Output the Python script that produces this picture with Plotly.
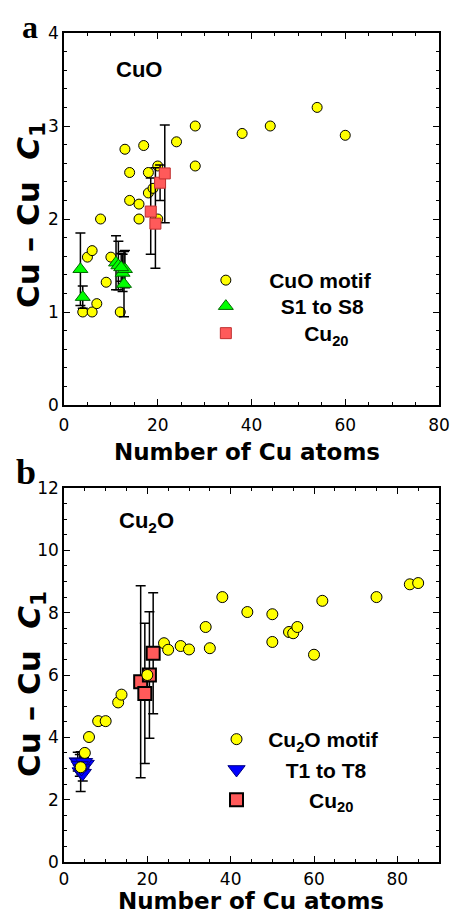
import plotly.graph_objects as go

# ---------------- data: panel a (CuO) ----------------
cuo_motif_n = [4, 6, 7, 5, 6, 7.8, 9, 10, 12, 13, 14, 14, 16, 16, 17, 18, 18, 19, 20, 20, 24, 28, 28, 38, 44, 54, 60]
cuo_motif_c1 = [1.0, 1.0, 1.09, 1.59, 1.66, 2.0, 1.32, 1.59, 1.0, 2.75, 2.5, 2.2, 2.16, 2.0, 2.79, 2.5, 2.28, 2.33, 2.57, 2.0, 2.83, 3.0, 2.57, 2.92, 3.0, 3.2, 2.9]

s_n = [3.5, 4.0, 11.1, 11.6, 12.5, 13.0, 12.8, 12.2]
s_c1 = [1.46, 1.16, 1.53, 1.50, 1.42, 1.46, 1.30, 1.48]
s_err = [0.39, 0.12, 0.29, 0.26, 0.20, 0.20, 0.35, 0.15]

cu20a_n = [18.5, 19.5, 20.5, 21.5]
cu20a_c1 = [2.08, 1.95, 2.39, 2.49]
cu20a_plus = [0.36, 0.60, 0.19, 0.52]
cu20a_minus = [0.46, 0.48, 0.19, 0.53]

# ---------------- data: panel b (Cu2O) ----------------
cu2o_motif_n = [4, 5, 6, 8.2, 10, 13, 13.8, 20, 24, 25, 28, 30, 34, 35, 38, 44, 50, 50, 54, 55, 56, 60, 62, 75, 83, 85]
cu2o_motif_c1 = [3.04, 3.5, 4.01, 4.52, 4.52, 5.12, 5.37, 6.0, 7.02, 6.81, 6.93, 6.82, 7.54, 6.86, 8.5, 8.02, 7.95, 7.06, 7.38, 7.34, 7.54, 6.65, 8.38, 8.5, 8.91, 8.95]

t_n = [3.3, 3.6, 4.0, 4.5, 5.2, 4.8, 3.8, 4.2]
t_c1 = [3.22, 3.2, 2.9, 2.85, 3.14, 3.2, 3.1, 3.0]
t_err = [0.30, 0.0, 0.64, 0.25, 0.0, 0.15, 0.35, 0.20]

cu20b_n = [18.4, 19.4, 20.5, 21.4]
cu20b_c1 = [5.78, 5.41, 6.0, 6.7]
cu20b_err = [3.08, 2.25, 2.03, 1.94]

xticks_a = [0, 20, 40, 60, 80]
yticks_a = [0, 1, 2, 3, 4]
xticks_b = [0, 20, 40, 60, 80]
yticks_b = [0, 2, 4, 6, 8, 10, 12]

# ---------------- layout geometry ----------------
# the page body has an 8px default margin, so the figure is shrunk by that amount
OFF = 8
W, H = 462 - OFF, 913 - OFF
ML, MR, MT, MB = 64 - OFF, 12, 33 - OFF, 51
PW, PH = W - ML - MR, H - MT - MB


def pxx(x):
    """page pixel x -> paper fraction"""
    return (x - OFF - ML) / PW


def pxy(y):
    """page pixel y -> paper fraction"""
    return (H - MB - (y - OFF)) / PH


TICKFONT = dict(family="DejaVu Sans", size=17, color="black")
LEGFONT = dict(family="Liberation Sans", size=21, color="black", weight="bold")
NB = "\u00a0"

fig = go.Figure()

# panel a
fig.add_trace(go.Scatter(
    x=cuo_motif_n, y=cuo_motif_c1, mode="markers", name=NB * 4 + "CuO motif",
    marker=dict(symbol="circle", size=10, color="#FFFF00", line=dict(color="black", width=1)),
    xaxis="x", yaxis="y", legend="legend"))
fig.add_trace(go.Scatter(
    x=s_n, y=s_c1, mode="markers", name=NB * 6 + "S1 to S8",
    marker=dict(symbol="triangle-up", size=13, color="#00FF00", line=dict(color="#006600", width=1)),
    error_y=dict(type="data", array=s_err, color="black", thickness=1.5, width=5),
    xaxis="x", yaxis="y", legend="legend3"))
fig.add_trace(go.Scatter(
    x=cu20a_n, y=cu20a_c1, mode="markers", name=NB * 10 + "Cu<sub>20</sub>",
    marker=dict(symbol="square", size=11, color="#FF5A5A", line=dict(color="#C03030", width=1)),
    error_y=dict(type="data", symmetric=False, array=cu20a_plus, arrayminus=cu20a_minus,
                 color="black", thickness=1.5, width=5),
    xaxis="x", yaxis="y", legend="legend4"))

# panel b (draw order: triangles, squares, circles)
fig.add_trace(go.Scatter(
    x=t_n, y=t_c1, mode="markers", name=NB * 5 + "T1 to T8",
    marker=dict(symbol="triangle-down", size=15, color="#0000FF", line=dict(color="#000080", width=1)),
    error_y=dict(type="data", array=t_err, color="black", thickness=1.5, width=5),
    xaxis="x2", yaxis="y2", legend="legend2", legendrank=2))
fig.add_trace(go.Scatter(
    x=cu20b_n, y=cu20b_c1, mode="markers", name=NB * 9 + "Cu<sub>20</sub>",
    marker=dict(symbol="square", size=13, color="#FF5A5A", line=dict(color="black", width=2)),
    error_y=dict(type="data", array=cu20b_err, color="black", thickness=1.5, width=5),
    xaxis="x2", yaxis="y2", legend="legend2", legendrank=3))
fig.add_trace(go.Scatter(
    x=cu2o_motif_n, y=cu2o_motif_c1, mode="markers", name=NB * 2 + "Cu<sub>2</sub>O motif",
    marker=dict(symbol="circle", size=11, color="#FFFF00", line=dict(color="black", width=1)),
    xaxis="x2", yaxis="y2", legend="legend2", legendrank=1))

axis_common = dict(
    showline=True, linecolor="black", linewidth=1.5, mirror="ticks",
    ticks="inside", ticklen=6, tickwidth=1.2, tickcolor="black",
    showgrid=False, zeroline=False, tickfont=TICKFONT,
)


def leg(xp, yp):
    return dict(x=pxx(xp), y=pxy(yp), xanchor="left", yanchor="top",
                bgcolor="rgba(0,0,0,0)", font=LEGFONT, itemsizing="trace", tracegroupgap=0)


fig.update_layout(
    width=W, height=H,
    margin=dict(l=ML, r=MR, t=MT, b=MB),
    paper_bgcolor="white", plot_bgcolor="white",
    xaxis=dict(domain=[0, 1], range=[0, 80], tickvals=xticks_a, anchor="y",
               minor=dict(ticks="inside", ticklen=3, dtick=5, tickcolor="black", showgrid=False),
               ticklabelstandoff=4, **axis_common),
    yaxis=dict(domain=[pxy(405), 1], range=[0, 4], tickvals=yticks_a, anchor="x",
               minor=dict(ticks="inside", ticklen=3, dtick=0.2, tickcolor="black", showgrid=False),
               ticklabelstandoff=0, **axis_common),
    xaxis2=dict(domain=[0, 1], range=[0, 90], tickvals=xticks_b, anchor="y2",
                minor=dict(ticks="inside", ticklen=3, dtick=5, tickcolor="black", showgrid=False),
                ticklabelstandoff=1, **axis_common),
    yaxis2=dict(domain=[0, pxy(488)], range=[0, 12], tickvals=yticks_b, anchor="x2",
                minor=dict(ticks="inside", ticklen=3, dtick=0.5, tickcolor="black", showgrid=False),
                ticklabelstandoff=0, **axis_common),
    legend=leg(210, 260),
    legend3=leg(210, 286),
    legend4=leg(210, 313),
    legend2=leg(221, 719),
    showlegend=True,
)

ann_font_title = dict(family="DejaVu Sans", size=23, color="black", weight="bold")
yt_font = dict(family="DejaVu Sans", size=31, color="black", weight="bold")
yt_text = "Cu" + NB + "\u2013" + NB + "Cu" + NB * 2 + "<i>C</i><sub>1</sub>"
annotations = [
    dict(text="a", x=pxx(29.5), y=pxy(27), font=dict(family="Liberation Serif", size=32, color="black", weight="bold")),
    dict(text="b", x=pxx(25), y=pxy(472), font=dict(family="Liberation Serif", size=36, color="black", weight="bold")),
    dict(text="CuO", x=pxx(141.5), y=pxy(69.5), font=dict(family="Liberation Sans", size=22, color="black", weight="bold")),
    dict(text="Cu<sub>2</sub>O", x=pxx(149), y=pxy(522), font=dict(family="Liberation Sans", size=22, color="black", weight="bold")),
    dict(text="Number of Cu atoms", x=pxx(252.5), y=pxy(452), font=ann_font_title),
    dict(text="Number of Cu atoms", x=pxx(256.5), y=pxy(901.5), font=ann_font_title),
    dict(text=yt_text, x=pxx(30), y=pxy(215), textangle=-90, font=yt_font),
    dict(text=yt_text, x=pxx(30), y=pxy(684), textangle=-90, font=yt_font),
]
for a in annotations:
    a.update(xref="paper", yref="paper", showarrow=False, xanchor="center", yanchor="middle")
fig.update_layout(annotations=annotations)

fig.write_html("out.html")
